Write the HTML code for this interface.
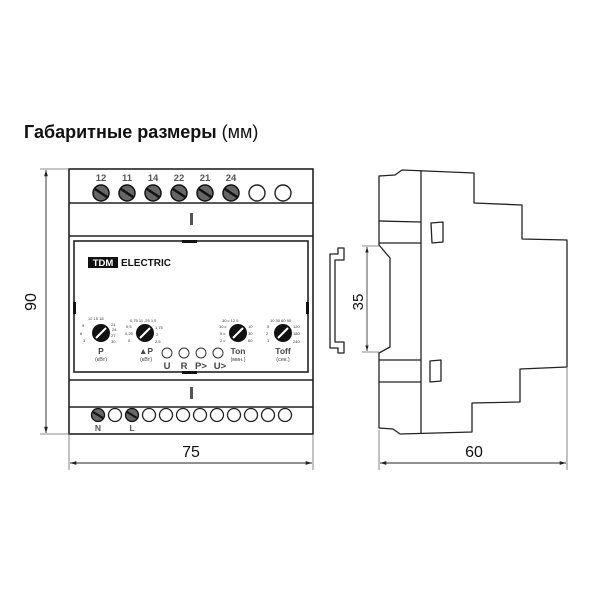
<!DOCTYPE html>
<html><head><meta charset="utf-8"><style>
html,body{margin:0;padding:0;background:#fff}
svg{display:block}
text{font-family:"Liberation Sans","DejaVu Sans",sans-serif}
</style></head><body>
<svg width="600" height="600" viewBox="0 0 600 600" xmlns="http://www.w3.org/2000/svg">
<defs>
<marker id="ar" viewBox="0 0 10 10" refX="10" refY="5" markerWidth="7" markerHeight="7" orient="auto-start-reverse"><path d="M0,2 L10,5 L0,8 z" fill="#222"/></marker>
<g id="scr"><circle r="8" fill="#666" stroke="#111" stroke-width="1.5"/><line x1="-6" y1="-4" x2="6" y2="4" stroke="#111" stroke-width="2.5"/></g>
<g id="scr2"><circle r="6.5" fill="#666" stroke="#111" stroke-width="1.3"/><line x1="-5" y1="-3" x2="5" y2="3" stroke="#111" stroke-width="2"/></g>
<g id="dial"><circle r="9" fill="#111"/><line x1="-5" y1="5" x2="5" y2="-5" stroke="#fff" stroke-width="2"/></g>
</defs>
<text x="24" y="138" font-size="18" font-weight="bold" fill="#111">Габаритные размеры <tspan font-weight="normal">(мм)</tspan></text>

<!-- front view -->
<g fill="none" stroke="#222" stroke-width="1.6">
<rect x="69" y="169" width="244" height="265"/>
<line x1="69" y1="203" x2="313" y2="203"/>
<line x1="69" y1="236" x2="313" y2="236"/>
<rect x="74" y="241" width="234" height="131"/>
<line x1="69" y1="380" x2="313" y2="380"/>
<line x1="69" y1="407" x2="313" y2="407"/>
</g>
<rect x="182" y="240" width="15" height="3" fill="#111"/>
<rect x="182" y="371" width="15" height="3" fill="#111"/>
<rect x="73" y="302" width="3" height="12" fill="#111"/>
<rect x="306" y="302" width="3" height="12" fill="#111"/>
<rect x="190" y="213" width="3" height="12" fill="#555"/>
<rect x="190" y="387" width="3" height="12" fill="#555"/>
<g font-size="9.5" font-weight="bold" fill="#555" text-anchor="middle">
<text x="101" y="181">12</text><text x="127" y="181">11</text><text x="153" y="181">14</text><text x="179" y="181">22</text><text x="205" y="181">21</text><text x="231" y="181">24</text>
</g>
<use href="#scr" x="101" y="193"/><use href="#scr" x="127" y="193"/><use href="#scr" x="153" y="193"/><use href="#scr" x="179" y="193"/><use href="#scr" x="205" y="193"/><use href="#scr" x="231" y="193"/>
<circle cx="257" cy="193" r="8" fill="none" stroke="#222" stroke-width="1.4"/>
<circle cx="283" cy="193" r="8" fill="none" stroke="#222" stroke-width="1.4"/>
<rect x="88" y="257" width="30" height="11" fill="#111"/>
<text x="103" y="266" font-size="9.5" font-weight="bold" fill="#fff" text-anchor="middle">TDM</text>
<text x="121" y="266" font-size="10" font-weight="bold" fill="#111">ELECTRIC</text>

<use href="#dial" x="101" y="333"/><use href="#dial" x="145" y="333"/><use href="#dial" x="238" y="333"/><use href="#dial" x="283" y="333"/>
<g font-size="4" fill="#333">
<text x="88" y="320">12 15 18</text><text x="82" y="327">9</text><text x="111" y="326">21</text><text x="112" y="331">24</text><text x="80" y="335">6</text><text x="111" y="337">27</text><text x="83" y="342">3</text><text x="111" y="343">30</text>
<text x="130" y="322">0,75 11 ,25 1,5</text><text x="126" y="328">0,5</text><text x="155" y="329">1,75</text><text x="125" y="335">0,25</text><text x="156" y="336">2</text><text x="128" y="342">0</text><text x="155" y="343">2,5</text>
<text x="222" y="322">30 c 12  5</text><text x="219" y="328">10 c</text><text x="248" y="328">10</text><text x="220" y="335">5 c</text><text x="248" y="335">30</text><text x="220" y="342">2 c</text><text x="248" y="342">60</text>
<text x="270" y="322">10 30 60 90</text><text x="267" y="328">5</text><text x="293" y="328">120</text><text x="266" y="335">2</text><text x="293" y="335">180</text><text x="267" y="342">1</text><text x="293" y="343">240</text>
</g>
<g font-size="8.5" font-weight="bold" fill="#444" text-anchor="middle">
<text x="101" y="354">P</text><text x="146" y="354">▲P</text><text x="238" y="354">Ton</text><text x="283" y="354">Toff</text>
</g>
<g font-size="5.5" fill="#444" text-anchor="middle">
<text x="101" y="361">(кВт)</text><text x="146" y="361">(кВт)</text><text x="238" y="361">(мин.)</text><text x="283" y="361">(сек.)</text>
</g>
<g fill="none" stroke="#333" stroke-width="1">
<circle cx="167" cy="353" r="5"/><circle cx="184" cy="353" r="5"/><circle cx="201" cy="353" r="5"/><circle cx="218" cy="353" r="5"/>
</g>
<g font-size="9.5" font-weight="bold" fill="#444" text-anchor="middle">
<text x="167" y="369">U</text><text x="184" y="369">R</text><text x="201" y="369">P&gt;</text><text x="220" y="369">U&gt;</text>
</g>
<use href="#scr2" x="98" y="415"/>
<circle cx="115" cy="415" r="6.5" fill="none" stroke="#222" stroke-width="1.3"/>
<use href="#scr2" x="132" y="415"/>
<g fill="none" stroke="#222" stroke-width="1.3">
<circle cx="149" cy="415" r="6.5"/><circle cx="166" cy="415" r="6.5"/><circle cx="183" cy="415" r="6.5"/><circle cx="200" cy="415" r="6.5"/><circle cx="217" cy="415" r="6.5"/><circle cx="234" cy="415" r="6.5"/><circle cx="251" cy="415" r="6.5"/><circle cx="268" cy="415" r="6.5"/><circle cx="285" cy="415" r="6.5"/>
</g>
<text x="98" y="431" font-size="8.5" font-weight="bold" fill="#555" text-anchor="middle">N</text>
<text x="132" y="431" font-size="8.5" font-weight="bold" fill="#555" text-anchor="middle">L</text>

<!-- dims front -->
<g stroke="#666" stroke-width="0.8" fill="none">
<line x1="40" y1="169" x2="69" y2="169"/><line x1="40" y1="434" x2="69" y2="434"/>
<line x1="69" y1="434" x2="69" y2="470"/><line x1="313" y1="434" x2="313" y2="470"/>
</g>
<line x1="46" y1="170" x2="46" y2="433" stroke="#222" stroke-width="0.9" marker-start="url(#ar)" marker-end="url(#ar)"/>
<line x1="70" y1="463" x2="312" y2="463" stroke="#222" stroke-width="0.9" marker-start="url(#ar)" marker-end="url(#ar)"/>
<text x="36" y="302" font-size="16" fill="#111" text-anchor="middle" transform="rotate(-90 36 302)">90</text>
<text x="191" y="457" font-size="16" fill="#111" text-anchor="middle">75</text>

<!-- side view -->
<g fill="none" stroke="#222" stroke-width="1.3" stroke-linejoin="round">
<path d="M379,176 L395,175 L402,170 L474,173 L474,203 L522,205 L522,239 L567,240 L567,367 L520,369 L520,402 L472,403 L472,432 L400,434 L393,429 L379,428 L379,353 L390,347 L390,258 L379,245 Z"/>
<line x1="421" y1="170" x2="421" y2="434"/>
<line x1="379" y1="221" x2="421" y2="222"/><line x1="379" y1="243" x2="421" y2="243"/>
<line x1="379" y1="360" x2="421" y2="360"/><line x1="379" y1="382" x2="421" y2="382"/>
<path d="M431,223 L443,222 L443,242 L432,243 Z"/><path d="M430,361 L441,360 L441,381 L430,382 Z"/>
<path d="M338,248 L344,248 L344,260 L335,260 L335,342 L344,342 L344,353 L338,353 L338,348 L330,348 L330,254 L338,254 Z"/>
</g>
<g stroke="#666" stroke-width="0.8">
<line x1="362" y1="246" x2="379" y2="246"/><line x1="362" y1="352" x2="379" y2="352"/>
<line x1="379" y1="430" x2="379" y2="470"/><line x1="567" y1="367" x2="567" y2="470"/>
</g>
<line x1="367" y1="247" x2="367" y2="351" stroke="#222" stroke-width="0.8" marker-start="url(#ar)" marker-end="url(#ar)"/>
<line x1="380" y1="463" x2="566" y2="463" stroke="#222" stroke-width="0.9" marker-start="url(#ar)" marker-end="url(#ar)"/>
<text x="363" y="302" font-size="15" fill="#111" text-anchor="middle" transform="rotate(-90 363 302)">35</text>
<text x="474" y="457" font-size="16" fill="#111" text-anchor="middle">60</text>
</svg>
</body></html>
